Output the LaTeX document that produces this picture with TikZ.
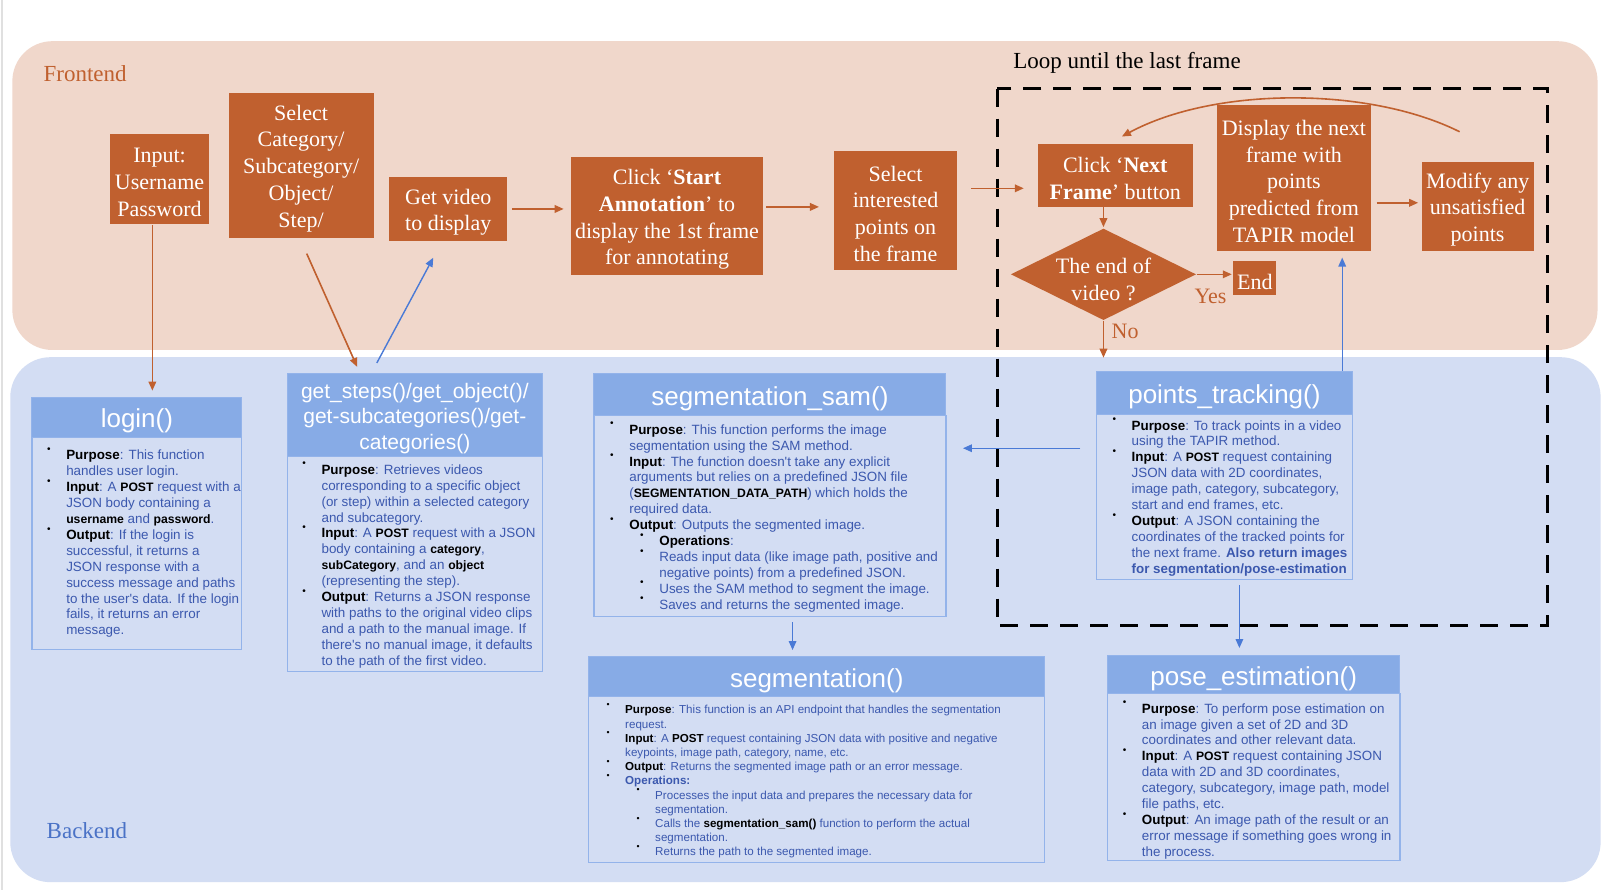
\documentclass[tikz,border=0pt]{standalone}
\usepackage{fontspec}
\usepackage{graphicx}
\setmainfont{Liberation Serif}
\newfontfamily\sansfam{Liberation Sans}
\usetikzlibrary{arrows.meta,shapes.geometric,fit}

\definecolor{fepanel}{HTML}{F0D7CB}
\definecolor{bepanel}{HTML}{D3DDF3}
\definecolor{rust}{HTML}{C0602F}
\definecolor{titleblue}{HTML}{87ABE6}
\definecolor{edgeblue}{HTML}{93B3EA}
\definecolor{textblue}{HTML}{3B58AE}
\definecolor{arrowblue}{HTML}{4A7AD6}
\definecolor{labelblue}{HTML}{4A72C6}

% one unit = one pixel of the drawing grid
\newcommand\U{0.51465pt}
\newcommand\frontfont{\fontsize{11pt}{13.4pt}\selectfont}
\newcommand\labfont{\fontsize{11.5pt}{13pt}\selectfont}
\newcommand\titlefont{\sansfam\fontsize{13pt}{15pt}\selectfont}
\newcommand\bodyfont{\sansfam\fontsize{6.7pt}{7.95pt}\selectfont}
\newcommand\smallbodyfont{\sansfam\fontsize{5.8pt}{7.1pt}\selectfont}
% hanging bullet, raised like the list bullets of the source slides
\newcommand\bl{\llap{\smash{\raisebox{0.55em}{\textcolor{black}{\scalebox{0.75}{\textbullet}}}}\hspace{7.8pt}}}
\newcommand\ind{\hspace*{15pt}}
\newcommand\lab[1]{\textcolor{black}{\textbf{#1}}}
\newcommand\kw[1]{\textcolor{black}{\textbf{\fontsize{6.1pt}{7pt}\selectfont #1}}}

\begin{document}
\begin{tikzpicture}[x=\U, y=-\U,
  obox/.style={fill=rust, inner sep=0pt},
  otext/.style={text=white, font=\frontfont, inner sep=0pt, align=center, yshift=-1.6pt},
  ttl/.style={fill=titleblue, draw=edgeblue, line width=0.5pt, inner sep=0pt},
  ttext/.style={text=white, inner sep=0pt, align=center, font=\titlefont, yshift=-1.8pt},
  bodyrect/.style={draw=edgeblue, line width=0.6pt, inner sep=0pt},
  btext/.style={anchor=north west, inner sep=0pt, align=left, text=textblue, font=\bodyfont},
  oarrow/.style={draw=rust, line width=0.8pt, -{Triangle[length=4.5pt,width=3.8pt]}},
  barrow/.style={draw=arrowblue, line width=0.7pt, -{Triangle[length=4.5pt,width=3.8pt]}},
  tag/.style={text=rust, font=\frontfont, inner sep=0pt},
]
\fill[white] (0,0) rectangle (1568,865);
\useasboundingbox (0,0) rectangle (1568,865);
\draw[black!12, line width=0.8pt] (2,0) -- (2,865);

% panels
\fill[fepanel, rounded corners=20pt] (12,40) rectangle (1552,340);
\fill[bepanel, rounded corners=20pt] (10,347) rectangle (1555,857);
\node[anchor=west, text=rust, font=\labfont, inner sep=0pt] (felabel) at (42,72) {Frontend};
\node[anchor=west, text=labelblue, font=\labfont, inner sep=0pt] (belabel) at (45,807) {Backend};

% annotation loop
\node[anchor=west, font=\labfont, inner sep=0pt] (looplabel) at (984,61) {Loop until the last frame};
\draw[black, line width=1.6pt, dash pattern=on 9pt off 6pt] (969,86) rectangle (1503,608);

% frontend steps
\node[obox, fit={(107,130) (203,218)}] (inp) {};
\node[otext] (inp-t) at (inp.center) {Input:\\Username\\Password};
\node[obox, fit={(222,90) (363,231)}] (selcat) {};
\node[otext] (selcat-t) at (selcat.center) {Select\\Category/\\Subcategory/\\Object/\\Step/};
\node[obox, fit={(378,172) (493,234)}] (vid) {};
\node[otext] (vid-t) at (vid.center) {Get video\\to display};
\node[obox, fit={(555,153) (741,267)}] (start) {};
\node[otext] (start-t) at (start.center) {Click ‘\textbf{Start}\\\textbf{Annotation}’ to\\display the 1st frame\\for annotating};
\node[obox, fit={(810,147) (930,262)}] (sel) {};
\node[otext] (sel-t) at (sel.center) {Select\\interested\\points on\\the frame};
\node[obox, fit={(1008,140) (1159,201)}] (next) {};
\node[otext] (next-t) at (next.center) {Click ‘\textbf{Next}\\\textbf{Frame}’ button};
\node[diamond, fill=rust, minimum width=180*\U, minimum height=89*\U, inner sep=0pt] (dec) at (1072,266.5) {};
\node[otext] (dec-t) at (1072,268) {The end of\\video ?};
\node[obox, fit={(1198,254) (1240,287)}] (endb) {};
\node[otext] (endb-t) at (endb.center) {End};
\node[obox, fit={(1182,102) (1332,244)}] (disp) {};
\node[otext] (disp-t) at (disp.center) {Display the next\\frame with\\points\\predicted from\\TAPIR model};
\node[obox, fit={(1381,157) (1490,244)}] (mod) {};
\node[otext] (mod-t) at (mod.center) {Modify any\\unsatisfied\\points};
\node[tag] (yes) at (1176,288) {Yes};
\node[tag] (no) at (1093,322) {No};
\coordinate (arcstart) at (1418,128);

% backend functions
\node[bodyrect, fit={(31,425) (235,631)}] (loginbody) {};
\node[ttl, fit={(31,386) (235,425)}] (login) {};
\node[ttext] (login-t) at (login.center) {login()};
\node[btext] (logintext) at (64,437) {%
\bl\lab{Purpose}: This function\\
handles user login.\\
\bl\lab{Input}: A \kw{POST} request with a\\
JSON body containing a\\
\kw{username} and \kw{password}.\\
\bl\lab{Output}: If the login is\\
successful, it returns a\\
JSON response with a\\
success message and paths\\
to the user's data. If the login\\
fails, it returns an error\\
message.};

\node[bodyrect, fit={(279,443) (527,652)}] (gsbody) {};
\node[ttl, fit={(279,363) (527,443)}] (gs) {};
\node[ttext, font=\sansfam\fontsize{10.5pt}{12.7pt}\selectfont] (gs-t) at (gs.center)
  {get\_steps()/get\_object()/\\get-subcategories()/get-\\categories()};
\node[btext] (gstext) at (312,451) {%
\bl\lab{Purpose}: Retrieves videos\\
corresponding to a specific object\\
(or step) within a selected category\\
and subcategory.\\
\bl\lab{Input}: A \kw{POST} request with a JSON\\
body containing a \kw{category},\\
\kw{subCategory}, and an \kw{object}\\
(representing the step).\\
\bl\lab{Output}: Returns a JSON response\\
with paths to the original video clips\\
and a path to the manual image. If\\
there's no manual image, it defaults\\
to the path of the first video.};

\node[bodyrect, fit={(577,404) (919,599)}] (sambody) {};
\node[ttl, fit={(577,363) (919,404)}] (sam) {};
\node[ttext] (sam-t) at (sam.center) {segmentation\_sam()};
\node[btext] (samtext) at (611,412) {%
\bl\lab{Purpose}: This function performs the image\\
segmentation using the SAM method.\\
\bl\lab{Input}: The function doesn't take any explicit\\
arguments but relies on a predefined JSON file\\
(\kw{SEGMENTATION\_DATA\_PATH}) which holds the\\
required data.\\
\bl\lab{Output}: Outputs the segmented image.\\
\ind\bl\lab{Operations}:\\
\ind\bl Reads input data (like image path, positive and\\
\ind negative points) from a predefined JSON.\\
\ind\bl Uses the SAM method to segment the image.\\
\ind\bl Saves and returns the segmented image.};

\node[bodyrect, fit={(1065,403) (1314,563)}] (ptbody) {};
\node[ttl, fit={(1065,361) (1314,403)}] (pt) {};
\node[ttext] (pt-t) at (pt.center) {points\_tracking()};
\node[btext] (pttext) at (1099,408) {%
\bl\lab{Purpose}: To track points in a video\\
using the TAPIR method.\\
\bl\lab{Input}: A \kw{POST} request containing\\
JSON data with 2D coordinates,\\
image path, category, subcategory,\\
start and end frames, etc.\\
\bl\lab{Output}: A JSON containing the\\
coordinates of the tracked points for\\
the next frame. \textbf{Also return images}\\
\textbf{for segmentation/pose-estimation}};

\node[bodyrect, fit={(572,677) (1015,838)}] (segbody) {};
\node[ttl, fit={(572,638) (1015,677)}] (seg) {};
\node[ttext] (seg-t) at (seg.center) {segmentation()};
\node[btext, font=\smallbodyfont] (segtext) at (607,685) {%
\bl\lab{Purpose}: This function is an API endpoint that handles the segmentation\\
request.\\
\bl\lab{Input}: A \lab{POST} request containing JSON data with positive and negative\\
keypoints, image path, category, name, etc.\\
\bl\lab{Output}: Returns the segmented image path or an error message.\\
\bl\textbf{Operations:}\\
\ind\bl Processes the input data and prepares the necessary data for\\
\ind segmentation.\\
\ind\bl Calls the \lab{segmentation\_sam()} function to perform the actual\\
\ind segmentation.\\
\ind\bl Returns the path to the segmented image.};

\node[bodyrect, fit={(1076,674) (1360,836)}] (posebody) {};
\node[ttl, fit={(1076,637) (1360,674)}] (pose) {};
\node[ttext] (pose-t) at (pose.center) {pose\_estimation()};
\node[btext] (posetext) at (1109,683) {%
\bl\lab{Purpose}: To perform pose estimation on\\
an image given a set of 2D and 3D\\
coordinates and other relevant data.\\
\bl\lab{Input}: A \kw{POST} request containing JSON\\
data with 2D and 3D coordinates,\\
category, subcategory, image path, model\\
file paths, etc.\\
\bl\lab{Output}: An image path of the result or an\\
error message if something goes wrong in\\
the process.};

% frontend flow
\draw[oarrow, shorten >=3.1pt] ([xshift=-3.6pt]inp.south) -- ([xshift=-3.6pt]inp.south |- login.north);
\draw[oarrow] ([xshift=2.8pt,yshift=-7.7pt]selcat.south) -- ([xshift=-28.8pt,yshift=3.1pt]gs.north);
\draw[barrow] ([xshift=-19pt,yshift=5.1pt]gs.north) -- ([xshift=-7.5pt,yshift=-8.2pt]vid.south);
\draw[oarrow, shorten <=2pt, shorten >=3.6pt] (vid.east) -- (vid.east -| start.west);
\draw[oarrow, shorten <=1.5pt, shorten >=7.2pt] ([yshift=1.8pt]sel.west -| start.east) -- ([yshift=1.8pt]sel.west);
\draw[oarrow, shorten <=6.7pt, shorten >=6.7pt] ([yshift=-6.4pt]next.west -| sel.east) -- ([yshift=-6.4pt]next.west);
\draw[oarrow, shorten >=0.5pt] (next.south -| dec.north) -- (dec.north);
\draw[oarrow, shorten >=0.5pt] (dec.east) -- (dec.east -| endb.west);
\draw[oarrow, shorten >=6.7pt] (dec.south) -- (dec.south |- pt.north);
\draw[barrow, shorten >=3pt] ([xshift=58.9pt]pt.north) -- ([xshift=58.9pt]pt.north |- disp.south);
\draw[oarrow, shorten <=2.6pt, shorten >=1.5pt] ([yshift=1.8pt]mod.west -| disp.east) -- ([yshift=1.8pt]mod.west);
\draw[oarrow] (arcstart) .. controls (1330,84) and (1180,84) .. ([xshift=3.3pt,yshift=3.6pt]next.north);

% backend calls
\draw[barrow, shorten <=7.7pt, shorten >=8.2pt] ([yshift=-17pt]ptbody.north west) -- ([yshift=-17pt]ptbody.north west -| sambody.east);
\draw[barrow, shorten <=2.6pt, shorten >=3.1pt] ([xshift=11.3pt]sambody.south) -- ([xshift=11.3pt]sambody.south |- seg.north);
\draw[barrow, shorten <=2.6pt, shorten >=3.6pt] ([xshift=7.5pt]ptbody.south) -- ([xshift=7.5pt]ptbody.south |- pose.north);
\end{tikzpicture}
\end{document}
